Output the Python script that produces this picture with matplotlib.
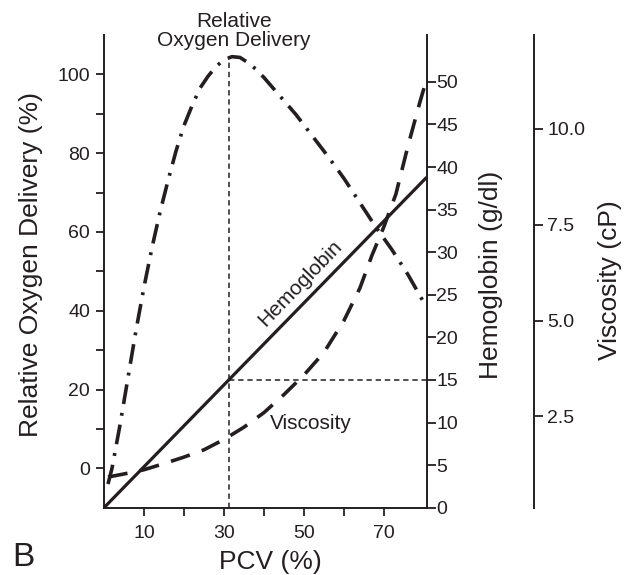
import numpy as np
import matplotlib
matplotlib.use('Agg')
import matplotlib.pyplot as plt

plt.rcParams['font.family'] = ['Liberation Sans', 'DejaVu Sans']
INK = '#231f20'

# relative oxygen delivery (%) vs PCV (%)
o2_pcv = [1, 2, 3, 4, 5, 6, 7, 8, 9, 10, 12, 14, 16, 18, 20, 22, 24, 26, 28, 30,
          32, 34, 36, 38, 40, 44, 48, 52, 56, 60, 64, 68, 72, 76, 79.7]
o2_delivery = [-4, 0, 5.5, 11, 17, 23, 29, 35, 40.5, 46, 56, 65, 73, 80.5, 87, 92,
               96.5, 99.5, 102, 103.7, 104.5, 104.3, 103, 101.3, 99.2, 94.5, 89.8,
               84.5, 79.2, 73.6, 67.4, 61.2, 55.5, 49.2, 42.6]

# viscosity (cP) vs PCV (%)
visc_pcv = [1, 5, 10, 15, 20, 25, 30, 35, 40, 45, 50, 55, 60, 64, 67, 70, 73, 76, 79, 80.6]
viscosity = [0.92, 1.0, 1.11, 1.27, 1.44, 1.63, 1.9, 2.22, 2.6, 3.07, 3.58, 4.17,
             5.0, 5.85, 6.7, 7.45, 8.3, 9.55, 10.7, 11.27]

# hemoglobin (g/dl) vs PCV (%)
hb_pcv = [0, 80.7]
hemoglobin = [0, 38.8]

optimal_pcv = 31.25
hb_optimal = 15

x_ticks = [10, 20, 30, 40, 50, 60, 70]
x_labels = ['10', '', '30', '', '50', '', '70']
o2_ticks = list(range(0, 101, 10))
o2_labels = ['0', '', '20', '', '40', '', '60', '', '80', '', '100']
hb_ticks = list(range(0, 51, 5))
visc_ticks = [2.5, 5.0, 7.5, 10.0]

W, H = 630, 575
fig = plt.figure(figsize=(W / 100, H / 100), dpi=100)
ax = fig.add_axes([104 / W, 1 - 507.7 / H, 322.7 / W, 472.7 / H])
ax2 = ax.twinx()
ax3 = ax.twinx()

ax.set_xlim(0, 80.7)
ax.set_ylim(-10, 110)
ax2.set_ylim(0, 55.5)
ax3.set_ylim(0.12, 12.45)

# curves
ax.plot(o2_pcv, o2_delivery, color=INK, lw=2.6, dashes=(5.5, 2.5, 0.8, 2.5), clip_on=False)
ax2.plot(hb_pcv, hemoglobin, color=INK, lw=2.3, solid_capstyle='butt', clip_on=False)
ax3.plot(visc_pcv, viscosity, color=INK, lw=2.6, dashes=(5.5, 3.5), clip_on=False)

# guide lines at the optimum
peak = np.interp(optimal_pcv, o2_pcv, o2_delivery)
ax.plot([optimal_pcv, optimal_pcv], [-10, peak], color=INK, lw=1.1, dashes=(3.5, 2.5))
ax2.plot([optimal_pcv, 80.7], [hb_optimal, hb_optimal], color=INK, lw=1.1, dashes=(3.5, 2.5))

# spines
for a in (ax, ax2, ax3):
    a.spines['top'].set_visible(False)
    for s in a.spines.values():
        s.set_linewidth(1.4)
        s.set_color(INK)
ax.spines['right'].set_visible(False)
for s in ('left', 'bottom'):
    ax2.spines[s].set_visible(False)
    ax3.spines[s].set_visible(False)
ax3.spines['right'].set_position(('axes', 1.333))

# ticks
ax.set_xticks(x_ticks)
ax.set_xticklabels(x_labels)
ax.set_yticks(o2_ticks)
ax.set_yticklabels(o2_labels)
ax.tick_params(axis='both', length=5.5, width=1.3, labelsize=14, colors=INK)
ax.tick_params(axis='x', pad=7)
ax.tick_params(axis='y', pad=4.5)

ax2.set_yticks(hb_ticks)
ax2.tick_params(axis='y', length=6.5, width=1.3, labelsize=14, colors=INK, pad=0.5)

ax3.set_yticks(visc_ticks)
ax3.set_yticklabels(['%.1f' % v for v in visc_ticks])
ax3.tick_params(axis='y', length=6.5, width=1.3, labelsize=14, colors=INK, pad=3)

# axis labels
ax.set_xlabel('PCV (%)', fontsize=19, color=INK)
ax.xaxis.set_label_coords(0.517, -0.09)
ax.set_ylabel('Relative Oxygen Delivery (%)', fontsize=19, color=INK)
ax.yaxis.set_label_coords(-0.189, 0.514)
ax2.set_ylabel('Hemoglobin (g/dl)', fontsize=19, color=INK)
ax2.yaxis.set_label_coords(1.162, 0.492)
ax3.set_ylabel('Viscosity (cP)', fontsize=19, color=INK)
ax3.yaxis.set_label_coords(1.531, 0.481)

# annotations
ax.text(32.5, 111.0, 'Relative\nOxygen Delivery', ha='center', va='center',
        fontsize=15, color=INK, linespacing=0.95)
ax2.text(49, 26.4, 'Hemoglobin', rotation=46, rotation_mode='anchor',
         ha='center', va='center', fontsize=15, color=INK)
ax2.text(51.75, 9.9, 'Viscosity', ha='center', va='center', fontsize=15, color=INK)
fig.text(12 / W, 2 / H, 'B', fontsize=24, color=INK, va='bottom')

fig.savefig('out.png', dpi=100)
